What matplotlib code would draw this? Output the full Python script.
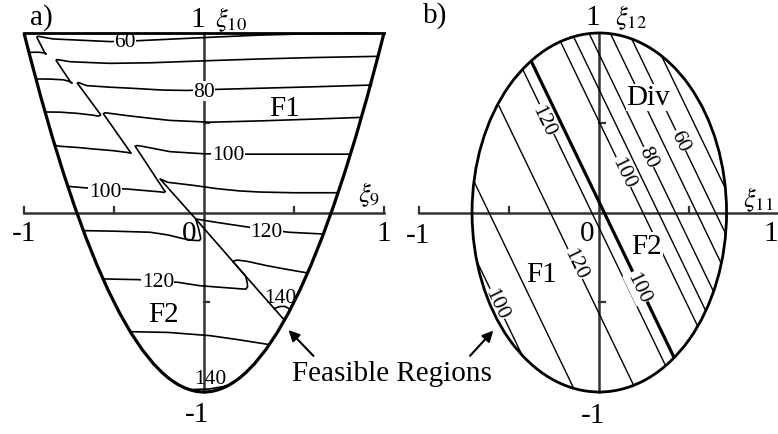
import matplotlib
matplotlib.use("Agg")
import matplotlib.pyplot as plt
from matplotlib.patches import Ellipse, PathPatch
from matplotlib.path import Path

plt.rcParams['font.family'] = ['Liberation Serif', 'DejaVu Serif']
plt.rcParams['mathtext.fontset'] = 'stix'

# ---------------- data: panel a) contour polylines (xi9, xi10) ----------------
c60_x = [-0.973, -0.92, -0.895, -0.88, -0.878, -0.886, -0.929, -0.922, -0.90, -0.84, -0.69, -0.52, -0.37, -0.2, 0.03, 0.3, 0.6, 0.9]
c60_y = [0.892, 0.893, 0.890, 0.886, 0.882, 0.892, 0.977, 0.982, 0.978, 0.967, 0.960, 0.952, 0.957, 0.965, 0.976, 0.988, 0.996, 1.0]

c70_x = [-0.934, -0.85, -0.78, -0.745, -0.733, -0.742, -0.822, -0.815, -0.79, -0.744, -0.6, -0.522, -0.3, 0.0, 0.3, 0.6, 0.967]
c70_y = [0.744, 0.743, 0.739, 0.729, 0.720, 0.728, 0.848, 0.852, 0.848, 0.840, 0.834, 0.831, 0.834, 0.845, 0.855, 0.863, 0.870]

c80_x = [-0.883, -0.8, -0.7, -0.615, -0.59, -0.574, -0.578, -0.704, -0.697, -0.652, -0.522, -0.4, -0.228, -0.089, 0.0, 0.3, 0.6, 0.93]
c80_y = [0.560, 0.559, 0.552, 0.542, 0.537, 0.542, 0.550, 0.721, 0.724, 0.707, 0.698, 0.692, 0.682, 0.680, 0.684, 0.692, 0.700, 0.710]

c90_x = [-0.829, -0.8, -0.7, -0.615, -0.5, -0.43, -0.405, -0.412, -0.559, -0.55, -0.429, -0.3, -0.189, 0.033, 0.3, 0.6, 0.876]
c90_y = [0.374, 0.369, 0.362, 0.354, 0.344, 0.335, 0.331, 0.340, 0.550, 0.556, 0.540, 0.525, 0.513, 0.503, 0.510, 0.520, 0.530]

c100_x = [-0.757, -0.644, -0.429, -0.244, -0.222, -0.215, -0.222, -0.383, -0.372, -0.339, -0.189, 0.0, 0.244, 0.5, 0.814]
c100_y = [0.146, 0.136, 0.131, 0.115, 0.112, 0.117, 0.125, 0.370, 0.373, 0.368, 0.339, 0.327, 0.325, 0.325, 0.325]

c110_x = [-0.670, -0.5, -0.3, -0.2, -0.115, -0.05, -0.025, -0.018, -0.03, -0.046, -0.244, -0.2, -0.115, -0.05, 0.071, 0.2, 0.311, 0.5, 0.745]
c110_y = [-0.101, -0.104, -0.110, -0.125, -0.146, -0.156, -0.156, -0.145, -0.09, -0.036, 0.187, 0.168, 0.158, 0.150, 0.133, 0.120, 0.114, 0.110, 0.110]

c120_x = [0.663, 0.47, 0.25, 0.07, -0.046, 0.231, 0.24, 0.242, 0.232, 0.2, -0.022, -0.144, -0.367, -0.561]
c120_y = [-0.120, -0.110, -0.082, -0.055, -0.036, -0.354, -0.39, -0.415, -0.427, -0.425, -0.408, -0.389, -0.374, -0.370]

c130_x = [0.576, 0.45, 0.348, 0.24, 0.185, 0.159, 0.447]
c130_y = [-0.337, -0.315, -0.296, -0.272, -0.265, -0.272, -0.600]
c130b_x = [-0.41, -0.2, 0.033, 0.2, 0.363]
c130b_y = [-0.664, -0.668, -0.686, -0.710, -0.736]

c140_x = [0.39, 0.42, 0.45, 0.48]
c140_y = [-0.535, -0.524, -0.523, -0.540]
c140b_x = [-0.08, 0.03, 0.13]
c140b_y = [-0.987, -0.983, -0.966]

contours_a = [(c60_x, c60_y), (c70_x, c70_y), (c80_x, c80_y), (c90_x, c90_y),
              (c100_x, c100_y), (c110_x, c110_y), (c120_x, c120_y),
              (c130_x, c130_y), (c130b_x, c130b_y), (c140_x, c140_y), (c140b_x, c140b_y)]

labels_a = ['60', '80', '100', '100', '120', '120', '140', '140']
labels_a_x = [-0.44, 0.0, -0.55, 0.133, 0.348, -0.256, 0.422, 0.033]
labels_a_y = [0.955, 0.675, 0.118, 0.322, -0.108, -0.385, -0.472, -0.925]
labels_a_bg = [True, True, True, True, True, True, False, False]

# ---------------- data: panel b) parallel level lines (xi11, xi12) ----------------
line_slope = -2.08
line_x0 = [-0.811, -0.613, -0.272, -0.042, 0.242, 0.328, 0.423, 0.541, 0.645, 0.765]
thick_x0 = 0.027

labels_b = ['120', '120', '100', '100', '100', '80', '60']
labels_b_x = [-0.311, -0.135, -0.57, 0.217, 0.133, 0.272, 0.448]
labels_b_y = [0.511, -0.287, -0.51, -0.417, 0.224, 0.308, 0.40]

# ---------------- figure ----------------
W, H = 778, 435
fig = plt.figure(figsize=(W / 100, H / 100), dpi=100)


def panel(px0, py0, sx=180, sy=179.5, xlim=(-1.12, 1.12), ylim=(-1.2, 1.2)):
    left = px0 + xlim[0] * sx
    right = px0 + xlim[1] * sx
    top = py0 - ylim[1] * sy
    bottom = py0 - ylim[0] * sy
    ax = fig.add_axes([left / W, 1 - bottom / H, (right - left) / W, (bottom - top) / H])
    ax.set_xlim(xlim)
    ax.set_ylim(ylim)
    ax.axis('off')
    return ax


def draw_axes(ax):
    c = '#333333'
    ax.plot([-1, 1], [0, 0], color=c, lw=1.8, clip_on=False, zorder=1)
    ax.plot([0, 0], [-1, 1], color=c, lw=1.8, clip_on=False, zorder=1)
    for t in [-1, -0.5, 0.5, 1]:
        ax.plot([t, t], [0, 0.03], color=c, lw=1.6, clip_on=False, zorder=1)
    for t in [-0.5, 0.5]:
        ax.plot([0, 0.03], [t, t], color=c, lw=1.6, clip_on=False, zorder=1)


big = 21
small = 15.5
xi = 19

# ---- panel a ----
ax1 = panel(204, 213.5)
draw_axes(ax1)
para = Path([(-1, 1), (0, -3), (1, 1)], [Path.MOVETO, Path.CURVE3, Path.CURVE3])
ax1.add_patch(PathPatch(para, fill=False, lw=2.3, color='k', zorder=5))
ax1.plot([-1, 1], [1, 1], color='k', lw=2.0, zorder=5)

for xs, ys in contours_a:
    ax1.plot(xs, ys, color='k', lw=1.2, zorder=2)

for s, x, y, bg in zip(labels_a, labels_a_x, labels_a_y, labels_a_bg):
    kw = dict(bbox=dict(fc='white', ec='none', pad=0.3)) if bg else {}
    ax1.text(x, y, s, fontsize=small, ha='center', va='center', zorder=4, **kw)

ax1.text(0.45, 0.583, 'F1', fontsize=big, ha='center', va='center')
ax1.text(-0.226, -0.565, 'F2', fontsize=big, ha='center', va='center')
ax1.text(-1.0, -0.114, '-1', fontsize=big, ha='center', va='center')
ax1.text(1.0, -0.114, '1', fontsize=big, ha='center', va='center')
ax1.text(-0.08, -0.114, '0', fontsize=big, ha='center', va='center')
ax1.text(-0.036, -1.123, '-1', fontsize=big, ha='center', va='center')
ax1.text(-0.032, 1.08, '1', fontsize=big, ha='center', va='center')
ax1.text(0.061, 1.08, r'$\xi_{10}$', fontsize=xi, ha='left', va='center')
ax1.text(0.856, 0.103, r'$\xi_{9}$', fontsize=xi, ha='left', va='center')
ax1.annotate('', xy=(0.47, -0.655), xytext=(0.608, -0.799),
             arrowprops=dict(arrowstyle='-|>', color='k', lw=1.5, mutation_scale=16,
                             shrinkA=0, shrinkB=0), annotation_clip=False)

# ---- panel b ----
ax2 = panel(599.3, 213.5)
draw_axes(ax2)
ax2.add_patch(Ellipse((0, 0), 2 * 0.707, 2, fill=False, lw=2.0, color='k', zorder=5))
clip = Ellipse((0, 0), 2 * 0.707, 2, transform=ax2.transData)

for x0 in line_x0:
    ln, = ax2.plot([x0 + 1.1 / line_slope, x0 - 1.1 / line_slope], [1.1, -1.1],
                   color='k', lw=1.0, zorder=2)
    ln.set_clip_path(clip)
ln, = ax2.plot([thick_x0 + 1.1 / line_slope, thick_x0 - 1.1 / line_slope], [1.1, -1.1],
               color='k', lw=2.3, zorder=2)
ln.set_clip_path(clip)

for s, x, y in zip(labels_b, labels_b_x, labels_b_y):
    ax2.text(x, y, s, fontsize=small, ha='center', va='center', rotation=-64.2,
             rotation_mode='anchor', zorder=4, bbox=dict(fc='white', ec='none', pad=0.3))

ax2.text(-0.32, -0.343, 'F1', fontsize=big, ha='center', va='center')
ax2.text(0.263, -0.185, 'F2', fontsize=big, ha='center', va='center', zorder=4,
         bbox=dict(fc='white', ec='none', pad=0.5))
ax2.text(0.272, 0.642, 'Div', fontsize=big, ha='center', va='center', zorder=4,
         bbox=dict(fc='white', ec='none', pad=0.5))
ax2.text(-1.005, -0.125, '-1', fontsize=big, ha='center', va='center')
ax2.text(0.955, -0.114, '1', fontsize=big, ha='center', va='center')
ax2.text(-0.07, -0.114, '0', fontsize=big, ha='center', va='center')
ax2.text(-0.033, -1.128, '-1', fontsize=big, ha='center', va='center')
ax2.text(-0.035, 1.09, '1', fontsize=big, ha='center', va='center')
ax2.text(0.087, 1.09, r'$\xi_{12}$', fontsize=xi, ha='left', va='center')
ax2.text(0.80, 0.075, r'$\xi_{11}$', fontsize=xi, ha='left', va='center')
ax2.annotate('', xy=(-0.589, -0.658), xytext=(-0.718, -0.798),
             arrowprops=dict(arrowstyle='-|>', color='k', lw=1.5, mutation_scale=16,
                             shrinkA=0, shrinkB=0), annotation_clip=False)

fig.text(41 / W, 1 - 17.5 / H, 'a)', fontsize=big, ha='center', va='center')
fig.text(435 / W, 1 - 16 / H, 'b)', fontsize=big, ha='center', va='center')
fig.text(292 / W, 1 - 381 / H, 'Feasible Regions', fontsize=big, ha='left', va='baseline')

fig.savefig('out.png', dpi=100)
